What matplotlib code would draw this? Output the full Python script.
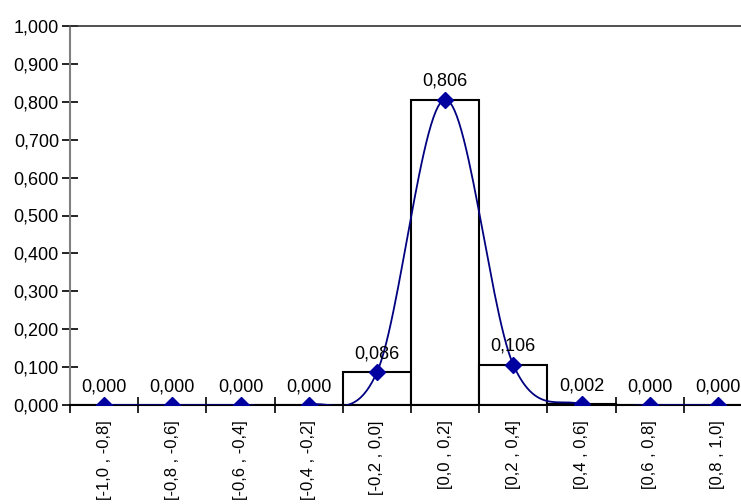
import matplotlib
matplotlib.use("Agg")
import matplotlib.pyplot as plt
import numpy as np

# intervalos (categorias) e frequencias relativas
categorias = ['[-1,0 , -0,8]', '[-0,8 , -0,6]', '[-0,6 , -0,4]', '[-0,4 , -0,2]',
              '[-0,2 , 0,0]', '[0,0 , 0,2]', '[0,2 , 0,4]', '[0,4 , 0,6]',
              '[0,6 , 0,8]', '[0,8 , 1,0]']
freq = [0.000, 0.000, 0.000, 0.000, 0.086, 0.806, 0.106, 0.002, 0.000, 0.000]
rotulos = ['0,000', '0,000', '0,000', '0,000', '0,086', '0,806', '0,106', '0,002', '0,000', '0,000']
yticks = [0.0, 0.1, 0.2, 0.3, 0.4, 0.5, 0.6, 0.7, 0.8, 0.9, 1.0]

plt.rcParams['font.family'] = ['Liberation Sans', 'DejaVu Sans']

x = np.arange(len(freq), dtype=float)
y = np.array(freq)


def suavizar(xs, ys, n=30):
    # linha suavizada (tipo Catmull-Rom, como o Excel)
    px = np.concatenate([[xs[0]], xs, [xs[-1]]])
    py = np.concatenate([[ys[0]], ys, [ys[-1]]])
    ox, oy = [], []
    t = np.linspace(0, 1, n)
    for i in range(1, len(px) - 2):
        p0, p1, p2, p3 = (np.array([px[j], py[j]]) for j in (i - 1, i, i + 1, i + 2))
        c1 = p1 + (p2 - p0) / 6
        c2 = p2 - (p3 - p1) / 6
        b = ((1 - t) ** 3)[:, None] * p1 + (3 * (1 - t) ** 2 * t)[:, None] * c1 \
            + (3 * (1 - t) * t ** 2)[:, None] * c2 + (t ** 3)[:, None] * p2
        ox.extend(b[:, 0])
        oy.extend(b[:, 1])
    return np.array(ox), np.array(oy)


fig = plt.figure(figsize=(7.41, 5.04), dpi=100)
ax = fig.add_axes([70 / 741, 99 / 504, 682 / 741, 379 / 504])

ax.bar(x, y, width=1.0, color='white', edgecolor='black', linewidth=1.5, zorder=2)

sx, sy = suavizar(x, y)
ax.plot(sx, sy, color='#000080', linewidth=1.3, zorder=3)
ax.plot(x, y, linestyle='none', marker='D', markersize=8, color='#0000A0', zorder=4)

for xi, yi, r in zip(x, y, rotulos):
    ax.annotate(r, (xi, yi), xytext=(0, 14), textcoords='offset pixels',
                ha='center', va='baseline', fontsize=13, zorder=5)

ax.set_xlim(-0.5, len(freq) - 0.5)
ax.set_ylim(0, 1.0)
ax.set_yticks(yticks)
ax.set_yticklabels([f'{v:.3f}'.replace('.', ',') for v in yticks], fontsize=13)

ax.set_xticks(np.arange(len(freq) + 1) - 0.5)
ax.set_xticklabels([])
ax.set_xticks(x, minor=True)
ax.set_xticklabels(categorias, minor=True, rotation=90, fontsize=12, va='top', ha='center')
ax.tick_params(axis='x', which='minor', length=0, pad=11)
ax.tick_params(axis='x', which='major', direction='inout', length=12, width=1.2)
ax.tick_params(axis='y', direction='inout', length=12, width=1.2, pad=2)

ax.spines['right'].set_visible(False)
ax.spines['left'].set_color('#808080')
ax.spines['left'].set_linewidth(1.5)
ax.spines['bottom'].set_linewidth(1.5)
ax.spines['top'].set_linewidth(1.2)
ax.spines['top'].set_color('#333333')

fig.savefig('out.png', dpi=100)
